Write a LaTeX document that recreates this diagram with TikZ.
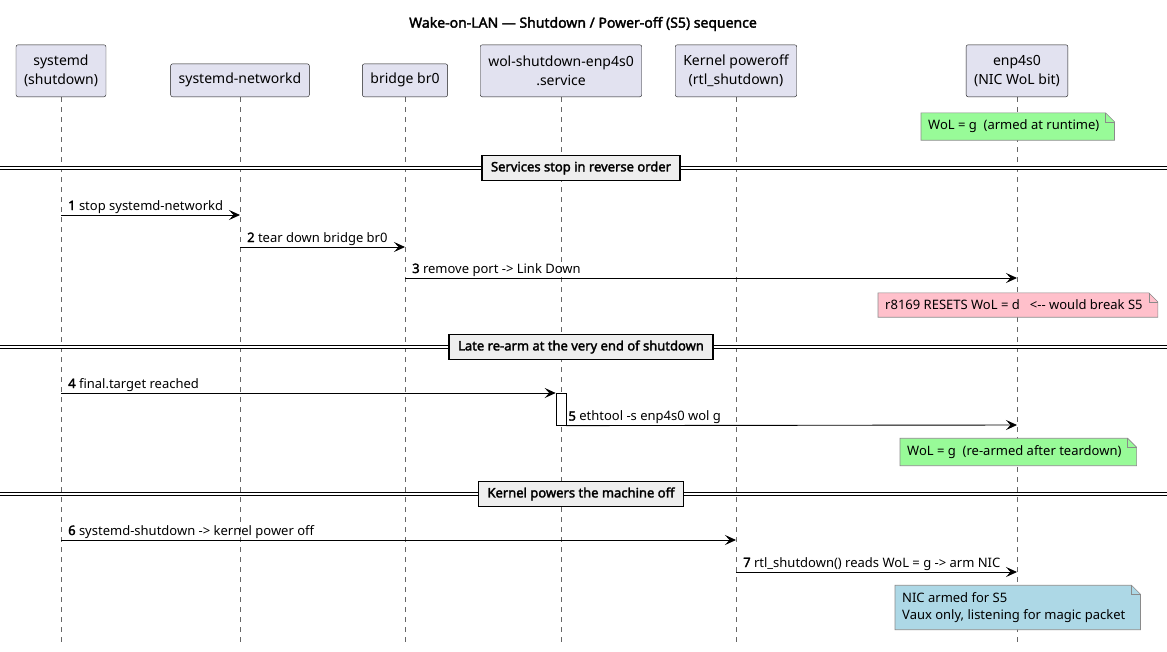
\documentclass[tikz,border=0pt]{standalone}
\usepackage{fontspec}
\setmainfont{Noto Sans}[AutoFakeBold=2.2]
\usetikzlibrary{arrows.meta,backgrounds}
\definecolor{partfill}{HTML}{E2E2F0}
\definecolor{partdraw}{HTML}{181818}
\definecolor{notedraw}{HTML}{8A8A8A}
\definecolor{notegreen}{HTML}{98FB98}
\definecolor{notepink}{HTML}{FFC0CB}
\definecolor{noteblue}{HTML}{ADD8E6}
\definecolor{sepfill}{HTML}{EEEEEE}
\newcommand{\msgfont}{\fontsize{13}{17}\selectfont}
% folded-corner note drawn behind node #1
\newcommand{\notebg}[2]{%
  \begin{scope}[on background layer]
    \filldraw[fill=#2,draw=notedraw,line width=0.6pt] (#1.south west) -- (#1.north west) -- ([xshift=-1pt]#1.north east)
      -- ([xshift=8pt,yshift=-9pt]#1.north east) -- ([xshift=8pt]#1.south east) -- cycle;
    \draw[notedraw,line width=0.6pt] ([xshift=-1pt]#1.north east) |- ([xshift=8pt,yshift=-9pt]#1.north east);
  \end{scope}}
\begin{document}
\begin{tikzpicture}[x=1pt,y=-1pt,
  part/.style={draw=partdraw,fill=partfill,rounded corners=2pt,anchor=south,align=center,
    inner xsep=8pt,inner ysep=6pt,minimum height=33pt,font=\fontsize{14}{19}\selectfont},
  tall/.style={minimum height=52pt},
  lifeline/.style={draw=gray!80!black,line width=0.5pt,dash pattern=on 5pt off 5pt},
  msg/.style={line width=0.9pt,-{Stealth[length=11pt,width=10pt,inset=4.5pt]}},
  lbl/.style={anchor=base west,inner sep=0pt,xshift=7pt,yshift=5pt,font=\msgfont},
  note/.style={anchor=west,align=left,inner xsep=7pt,inner ysep=7pt,font=\msgfont},
  sep/.style={draw,line width=1.3pt,fill=sepfill,inner xsep=9pt,inner ysep=6pt,font=\msgfont\bfseries},
  sepline/.style={line width=0.8pt,double,double distance=2.4pt},
  act/.style={draw,fill=white,line width=0.6pt,anchor=north,minimum width=10pt,minimum height=32pt,inner sep=0pt}]
\useasboundingbox (0,0) rectangle (1167,651);
\coordinate (lim) at (0,0);
\coordinate (rim) at (1167,0);
\coordinate (bot) at (0,646);

\node[font=\fontsize{14}{17}\selectfont\bfseries] (title) at (583,24) {Wake-on-LAN — Shutdown / Power-off (S5) sequence};

\node[part,tall] (sysd) at (61,97) {systemd\\(shutdown)};
\node[part] (netd) at (240,97) {systemd-networkd};
\node[part] (br0) at (405,97) {bridge br0};
\node[part,tall] (wol) at (561,97) {wol-shutdown-enp4s0\\.service};
\node[part,tall] (kern) at (736,97) {Kernel poweroff\\(rtl\_shutdown)};
\node[part,tall] (nic) at (1017,97) {enp4s0\\(NIC WoL bit)};

\begin{scope}[on background layer]
\foreach \p in {sysd,netd,br0,wol,kern,nic}
  \draw[lifeline] (\p.south) -- (\p.south |- bot);
\end{scope}

\node[note] (n1) at (921,126.5) {WoL = g\ \ (armed at runtime)};
\notebg{n1}{notegreen}

% services stop
\node[sep] (s1) at (581,168) {Services stop in reverse order};
\draw[sepline] (s1.west -| lim) -- (s1.west);
\draw[sepline] (s1.east) -- (s1.east -| rim);

\coordinate (m1) at (0,215);
\coordinate (m2) at (0,247);
\coordinate (m3) at (0,278);
\draw[msg] (sysd |- m1) -- (netd |- m1);
\node[lbl] at (sysd |- m1) {\textbf{1} stop systemd-networkd};
\draw[msg] (netd |- m2) -- (br0 |- m2);
\node[lbl] at (netd |- m2) {\textbf{2} tear down bridge br0};
\draw[msg] (br0 |- m3) -- (nic |- m3);
\node[lbl] at (br0 |- m3) {\textbf{3} remove port -> Link Down};

\node[note] (n2) at (878,305) {r8169 RESETS WoL = d\ \ \ <{-}{-} would break S5};
\notebg{n2}{notepink}

% late re-arm
\node[sep] (s2) at (581,347) {Late re-arm at the very end of shutdown};
\draw[sepline] (s2.west -| lim) -- (s2.west);
\draw[sepline] (s2.east) -- (s2.east -| rim);

\coordinate (m4) at (0,393);
\coordinate (m5) at (0,425);
\node[act] (actv) at (wol |- m4) {};
\draw[msg] (sysd |- m4) -- (actv.north west);
\node[lbl] at (sysd |- m4) {\textbf{4} final.target reached};
\draw[msg] (actv.south east) -- (nic |- m5);
\node[lbl,xshift=-5pt] at (actv.south east) {\textbf{5} ethtool -s enp4s0 wol g};

\node[note] (n3) at (900,452) {WoL = g\ \ (re-armed after teardown)};
\notebg{n3}{notegreen}

% kernel power off
\node[sep] (s3) at (581,494) {Kernel powers the machine off};
\draw[sepline] (s3.west -| lim) -- (s3.west);
\draw[sepline] (s3.east) -- (s3.east -| rim);

\coordinate (m6) at (0,540);
\coordinate (m7) at (0,572);
\draw[msg] (sysd |- m6) -- (kern |- m6);
\node[lbl] at (sysd |- m6) {\textbf{6} systemd-shutdown -> kernel power off};
\draw[msg] (kern |- m7) -- (nic |- m7);
\node[lbl] at (kern |- m7) {\textbf{7} rtl\_shutdown() reads WoL = g -> arm NIC};

\node[note] (n4) at (895,607.5) {NIC armed for S5\\Vaux only, listening for magic packet};
\notebg{n4}{noteblue}
\end{tikzpicture}
\end{document}
